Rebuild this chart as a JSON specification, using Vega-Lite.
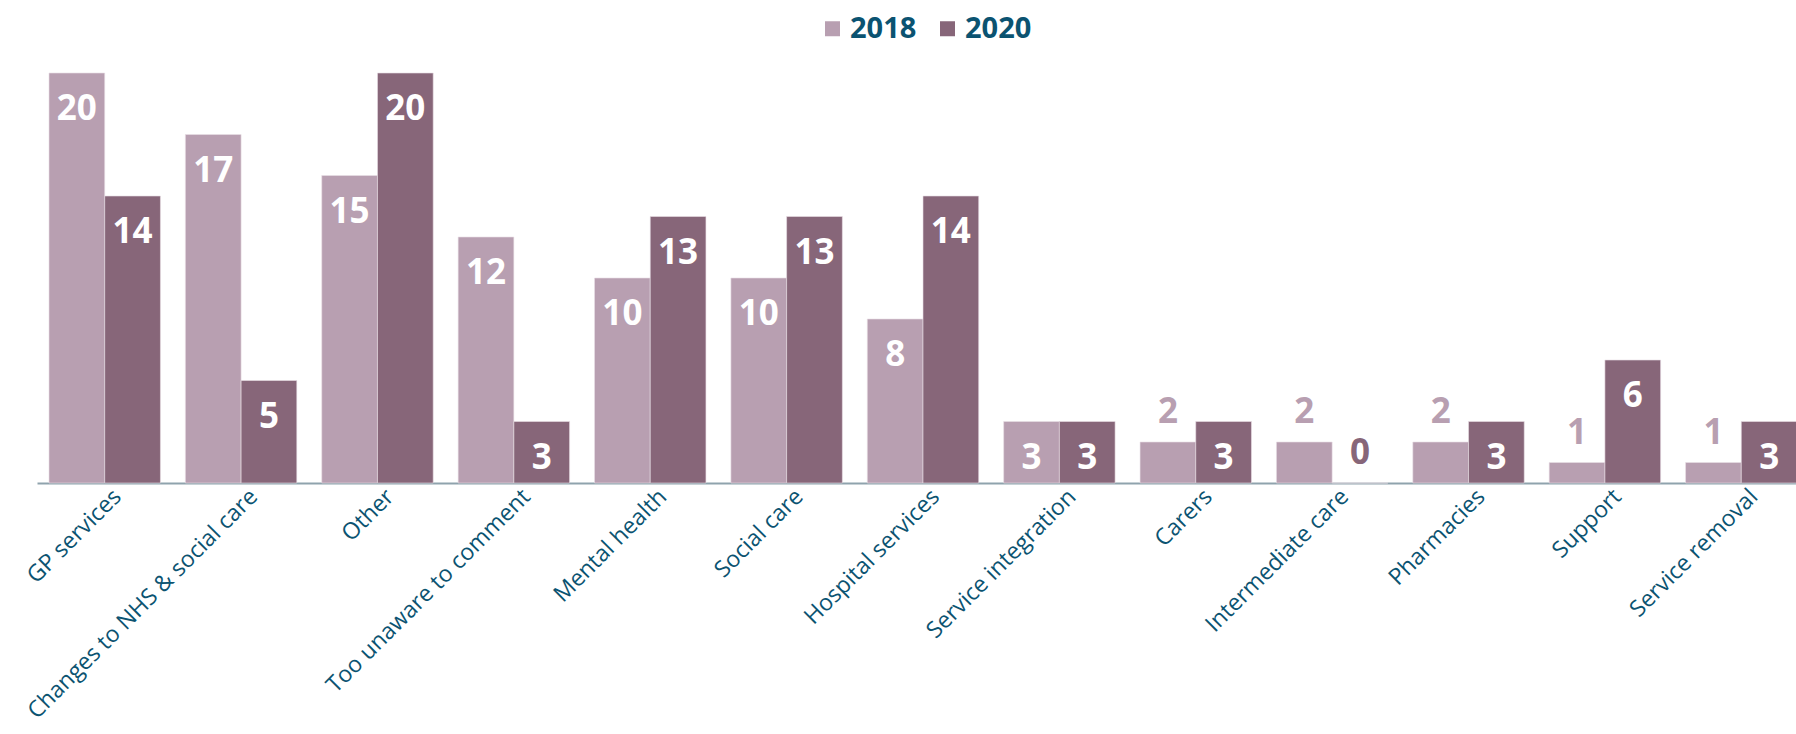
{
  "$schema": "https://vega.github.io/schema/vega-lite/v6.json",
  "autosize": {"type": "none"},
  "width": 1760,
  "height": 410,
  "padding": {"left": 37, "top": 73, "right": 0, "bottom": 251},
  "background": "white",
  "config": {"view": {"stroke": null}, "font": "Open Sans"},
  "data": {"values": [
    {"cat": "GP services", "year": "2018", "value": 20},
    {"cat": "GP services", "year": "2020", "value": 14},
    {"cat": "Changes to NHS & social care", "year": "2018", "value": 17},
    {"cat": "Changes to NHS & social care", "year": "2020", "value": 5},
    {"cat": "Other", "year": "2018", "value": 15},
    {"cat": "Other", "year": "2020", "value": 20},
    {"cat": "Too unaware to comment", "year": "2018", "value": 12},
    {"cat": "Too unaware to comment", "year": "2020", "value": 3},
    {"cat": "Mental health", "year": "2018", "value": 10},
    {"cat": "Mental health", "year": "2020", "value": 13},
    {"cat": "Social care", "year": "2018", "value": 10},
    {"cat": "Social care", "year": "2020", "value": 13},
    {"cat": "Hospital services", "year": "2018", "value": 8},
    {"cat": "Hospital services", "year": "2020", "value": 14},
    {"cat": "Service integration", "year": "2018", "value": 3},
    {"cat": "Service integration", "year": "2020", "value": 3},
    {"cat": "Carers", "year": "2018", "value": 2},
    {"cat": "Carers", "year": "2020", "value": 3},
    {"cat": "Intermediate care", "year": "2018", "value": 2},
    {"cat": "Intermediate care", "year": "2020", "value": 0},
    {"cat": "Pharmacies", "year": "2018", "value": 2},
    {"cat": "Pharmacies", "year": "2020", "value": 3},
    {"cat": "Support", "year": "2018", "value": 1},
    {"cat": "Support", "year": "2020", "value": 6},
    {"cat": "Service removal", "year": "2018", "value": 1},
    {"cat": "Service removal", "year": "2020", "value": 3}
  ]},
  "encoding": {
    "x": {
      "field": "cat", "type": "nominal", "sort": null, "title": null,
      "scale": {"paddingInner": 0.183, "paddingOuter": 0.044, "align": 1},
      "axis": {
        "labelAngle": -45, "labelAlign": "right", "labelBaseline": "top",
        "labelFontSize": 23, "labelColor": "#0b5371", "labelPadding": 2, "labelOffset": 5,
        "ticks": false, "domainColor": "#8fa3ad", "domainWidth": 2,
        "labelLimit": 500, "labelOverlap": false
      }
    },
    "xOffset": {"field": "year", "type": "nominal", "scale": {"paddingInner": 0, "paddingOuter": 0}},
    "y": {
      "field": "value", "type": "quantitative", "title": null,
      "scale": {"domain": [0, 20], "nice": false},
      "axis": null
    }
  },
  "layer": [
    {
      "mark": {"type": "bar", "stroke": "#e9dfe6", "strokeWidth": 0.6},
      "encoding": {
        "color": {
          "field": "year", "type": "nominal",
          "scale": {"domain": ["2018", "2020"], "range": ["#b89fb1", "#876679"]},
          "legend": {
            "title": null, "orient": "none", "direction": "horizontal",
            "legendX": 781, "legendY": -59,
            "symbolType": "square", "symbolSize": 225, "symbolStrokeWidth": 0,
            "labelFontSize": 29, "labelFontWeight": "bold", "labelColor": "#0b5371",
            "labelOffset": 3, "columnPadding": 16
          }
        }
      }
    },
    {
      "transform": [{"filter": "datum.value >= 3"}],
      "mark": {"type": "text", "baseline": "alphabetic", "dy": 47, "fontSize": 35, "fontWeight": "bold", "color": "white"},
      "encoding": {"text": {"field": "value", "type": "quantitative"}}
    },
    {
      "transform": [{"filter": "datum.value < 3"}],
      "mark": {"type": "text", "baseline": "alphabetic", "dy": -19, "fontSize": 35, "fontWeight": "bold"},
      "encoding": {
        "text": {"field": "value", "type": "quantitative"},
        "color": {"field": "year", "type": "nominal", "legend": null}
      }
    }
  ]
}
